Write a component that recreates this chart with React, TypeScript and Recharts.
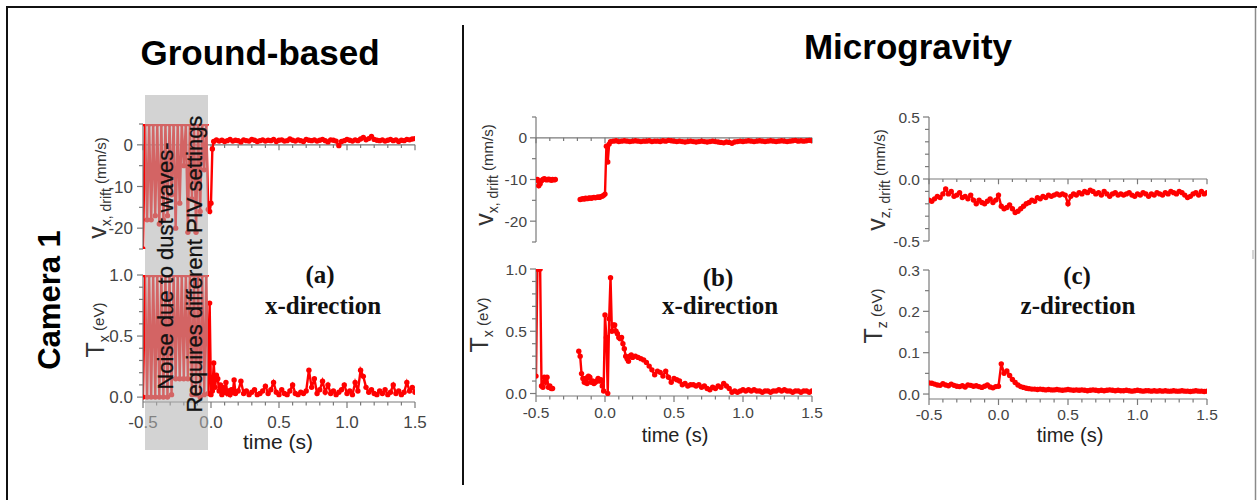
import { LineChart, Line, XAxis, YAxis, ReferenceLine } from "recharts";

const FONT = '"Liberation Sans", Arial, sans-serif';
const SERIF = '"Liberation Serif", "Times New Roman", serif';
const RED = "#ff0000";
const AXIS = "#7a7a7a";
const LABEL = "#444";

// time axis (s)
const xTicks = [-0.5, -0.4, -0.3, -0.2, -0.1, 0, 0.1, 0.2, 0.3, 0.4, 0.5, 0.6, 0.7, 0.8, 0.9, 1.0, 1.1, 1.2, 1.3, 1.4, 1.5];
const xLabels = [-0.5, 0, 0.5, 1.0, 1.5];

const vxTicks = [-25, -20, -15, -10, -5, 0, 5];
const vxLabels = [-20, -10, 0];
const txTicks = [0, 0.1, 0.2, 0.3, 0.4, 0.5, 0.6, 0.7, 0.8, 0.9, 1.0];
const txLabels = [0, 0.5, 1.0];
const vzTicks = [-0.5, -0.4, -0.3, -0.2, -0.1, 0, 0.1, 0.2, 0.3, 0.4, 0.5];
const vzLabels = [-0.5, 0, 0.5];
const tzTicks = [0, 0.05, 0.1, 0.15, 0.2, 0.25, 0.3];
const tzLabels = [0, 0.1, 0.2, 0.3];

// (a) ground-based, x-direction
const vxGroundNoise = [-25, 5, -18, 5, -18, 5, -17, 5, -19, 5, -18, 5, -17, 5, -12, 5, -20, 5, -14, 5, -5, 5, -21, 5, -13, 5, -21, 5, -16, 5, -6, 5];
const vxGroundJump = [-15.5, -16, -14, -1, 0.8];
const vxGroundAfter = [
  1.2, 0.9, 1.1, 0.8, 1.0, 1.3, 0.9, 1.1, 1.0, 0.7, 1.2, 1.0, 0.9, 1.3, 1.1, 0.8, 1.0, 1.2, 0.9, 1.1,
  1.0, 1.3, 0.8, 1.1, 1.2, 0.9, 1.0, 1.4, 1.1, 0.9, 1.2, 1.0, 0.8, 1.3, 1.1, 1.0, 1.2, 0.9, 1.1, 1.3,
  1.0, 0.7, 1.2, 1.1, 0.9, -0.2, 0.8, 1.0, 1.3, 1.1, 0.9, 1.2, 1.0, 1.4, 1.8, 1.2, 1.5, 2.0, 1.3, 1.1,
  1.0, 1.2, 0.9, 1.1, 1.3, 1.0, 1.2, 0.8, 1.1, 1.0, 1.3, 1.2, 1.4, 1.5,
];
const txGroundNoise = [0, 1, 0, 1, 0, 1, 0, 1, 0, 1, 0, 1, 0, 1, 0.02, 1, 0.15, 1, 0.15, 1, 0.15, 1, 0.15, 1, 0.02, 1, 0.02, 1, 0, 1, 0.02, 1];
const txGroundJump = [0.03, 0.77, 0.02, 0.05, 0.28, 0.08, 0.18, 0.15, 0.05, 0.1, 0.02, 0.08, 0.04, 0.12, 0.03, 0.05, 0.02, 0.06, 0.04, 0.14, 0.03];
const txGroundAfter = [
  0.05, 0.13, 0.03, 0.05, 0.02, 0.04, 0.06, 0.02, 0.03, 0.05, 0.09, 0.03, 0.06, 0.12, 0.04, 0.02, 0.06, 0.03, 0.02, 0.05,
  0.1, 0.03, 0.02, 0.04, 0.03, 0.05, 0.22, 0.08, 0.15, 0.03, 0.06, 0.13, 0.04, 0.1, 0.03, 0.05, 0.02, 0.04, 0.06, 0.1,
  0.03, 0.05, 0.02, 0.12, 0.05, 0.22, 0.17, 0.08, 0.04, 0.06, 0.03, 0.02, 0.05, 0.03, 0.06, 0.02, 0.04, 0.1, 0.03, 0.05,
  0.02, 0.04, 0.12, 0.05, 0.08, 0.04,
];

// (b) microgravity, x-direction
const vxMicroEarly = [-10.2, -10, -11.5, -11, -10.3, -10, -9.8, -10, -10.1, -9.9, -10, -10.2, -10, -10.1, -10];
const vxMicroJump = [-14.8, -14.7, -14.6, -14.7, -14.5, -14.6, -14.5, -14.4, -14.5, -14.4, -14.3, -14.4, -14.3, -14.2, -14.3, -14.1, -14.0, -13.8, -13.5, -2, -5.8, -1.5, -0.9];
const vxMicroAfter = [
  -0.8, -0.7, -0.9, -0.8, -0.7, -0.8, -0.9, -0.8, -0.7, -0.8,
  -0.9, -0.8, -0.8, -0.7, -0.9, -0.8, -0.8, -0.9, -0.7, -0.8,
  -0.6, -0.7, -0.8, -0.9, -0.8, -0.9, -1.0, -0.9, -0.8, -0.9,
  -1.0, -0.9, -0.8, -0.9, -1.0, -0.9, -0.8, -0.9, -1.0, -1.1,
  -1.2, -1.0, -1.1, -1.3, -1.0, -0.9, -0.8, -0.9, -0.8, -0.7,
  -0.8, -0.9, -0.8, -0.7, -0.8, -0.9, -0.8, -0.7, -0.8, -0.9,
  -0.8, -0.7, -0.8, -0.9, -0.8, -0.7, -0.6, -0.8, -0.7, -0.8,
  -0.7, -0.6, -0.7,
];
const txMicroEarly = [0.14, 1.0, 1.0, 1.0, 0.06, 0.05, 0.13, 0.09, 0.13, 0.05, 0.06, 0.04, 0.04];
const txMicroJump = [
  0.34, 0.30, 0.16, 0.12, 0.09, 0.12, 0.08, 0.14, 0.13, 0.09, 0.10, 0.08, 0.09, 0.10, 0.12, 0.10, 0.11, 0.06, 0.02,
  0.63, 0.45, 0.0, 0.6, 0.93, 0.5, 0.55, 0.55, 0.5, 0.48, 0.45, 0.44, 0.45, 0.4, 0.36, 0.3, 0.28, 0.26, 0.3, 0.31,
];
const txMicroAfter = [
  0.29, 0.30, 0.29, 0.28, 0.27, 0.25, 0.22, 0.19, 0.15, 0.18, 0.17, 0.14, 0.18, 0.13, 0.09, 0.12, 0.11, 0.1, 0.07, 0.08,
  0.06, 0.07, 0.07, 0.06, 0.07, 0.05, 0.06, 0.04, 0.03, 0.05, 0.04, 0.06, 0.05, 0.08, 0.06, 0.04, 0.01, 0.02, 0.01, 0.02,
  0.03, 0.02, 0.03, 0.02, 0.03, 0.02, 0.02, 0.01, 0.02, 0.02, 0.01, 0.02, 0.02, 0.03, 0.02, 0.03, 0.02, 0.02, 0.01, 0.02,
  0.02, 0.01, 0.02, 0.02, 0.01, 0.02,
];

// (c) microgravity, z-direction
const vzMicro = [
  -0.17, -0.18, -0.16, -0.14, -0.15, -0.12, -0.08, -0.12, -0.1, -0.14,
  -0.13, -0.11, -0.15, -0.14, -0.16, -0.13, -0.17, -0.2, -0.17, -0.19,
  -0.2, -0.18, -0.16, -0.19, -0.17, -0.13, -0.22, -0.24, -0.23, -0.21,
  -0.24, -0.27, -0.26, -0.24, -0.22, -0.2, -0.19, -0.17, -0.18, -0.15,
  -0.16, -0.14, -0.15, -0.13, -0.14, -0.13, -0.12, -0.13, -0.12, -0.13,
  -0.2, -0.14, -0.12, -0.13, -0.11, -0.12, -0.1, -0.11, -0.09, -0.1,
  -0.12, -0.11, -0.13, -0.1, -0.12, -0.14, -0.12, -0.11, -0.13, -0.12,
  -0.13, -0.12, -0.11, -0.13, -0.14, -0.12, -0.13, -0.11, -0.12, -0.14,
  -0.12, -0.13, -0.11, -0.12, -0.13, -0.11, -0.12, -0.1, -0.11, -0.12,
  -0.1, -0.11, -0.13, -0.15, -0.14, -0.12, -0.11, -0.13, -0.1, -0.12, -0.11,
];
const tzMicro = [
  0.027, 0.026, 0.024, 0.022, 0.021, 0.025, 0.022, 0.02, 0.024, 0.021,
  0.019, 0.018, 0.02, 0.017, 0.022, 0.021, 0.019, 0.02, 0.018, 0.016,
  0.019, 0.022, 0.017, 0.015, 0.018, 0.019, 0.073, 0.05, 0.056, 0.045,
  0.035, 0.028, 0.022, 0.018, 0.016, 0.014, 0.013, 0.012, 0.012, 0.011,
  0.012, 0.011, 0.01, 0.011, 0.01, 0.01, 0.011, 0.01, 0.009, 0.01,
  0.011, 0.01, 0.009, 0.01, 0.009, 0.01, 0.009, 0.008, 0.009, 0.01,
  0.009, 0.008, 0.009, 0.008, 0.009, 0.01, 0.009, 0.008, 0.009, 0.008,
  0.008, 0.009, 0.008, 0.007, 0.008, 0.009, 0.008, 0.007, 0.008, 0.008,
  0.007, 0.008, 0.007, 0.008, 0.007, 0.008, 0.007, 0.007, 0.008, 0.007,
  0.007, 0.008, 0.007, 0.007, 0.006, 0.007, 0.008, 0.007, 0.007, 0.006, 0.007,
];

type Row = { t: number; v: number | null };

// samples taken at a fixed frame interval starting at t0
function frames(t0: number, dt: number, values: number[]): Row[] {
  return values.map((v, i) => ({ t: Math.round((t0 + i * dt) * 1000) / 1000, v }));
}
const gap = (t: number): Row[] => [{ t, v: null }];

const vxGround = [...frames(-0.5, 0.015, vxGroundNoise), ...frames(-0.02, 0.01, vxGroundJump), ...frames(0.04, 0.02, vxGroundAfter)];
const txGround = [...frames(-0.5, 0.015, txGroundNoise), ...frames(-0.02, 0.01, txGroundJump), ...frames(0.2, 0.02, txGroundAfter)];
const vxMicro = [...frames(-0.5, 0.01, vxMicroEarly), ...gap(-0.3), ...frames(-0.18, 0.01, vxMicroJump), ...frames(0.06, 0.02, vxMicroAfter)];
const txMicro = [...frames(-0.5, 0.01, txMicroEarly), ...gap(-0.3), ...frames(-0.19, 0.01, txMicroJump), ...frames(0.2, 0.02, txMicroAfter)];
const vzData = frames(-0.5, 0.02, vzMicro);
const tzData = frames(-0.5, 0.02, tzMicro);

const isMajor = (t: number) => Math.abs(t * 2 - Math.round(t * 2)) < 1e-6;
const near = (list: number[], v: number) => list.some((l) => Math.abs(l - v) < 1e-9);

type Box = { left: number; top: number; width: number; height: number };

type PanelProps = {
  box: Box;
  data: Row[];
  yDomain: [number, number];
  yTicks: number[];
  yLabels: number[];
  yFmt: (v: number) => string;
  zeroAxis?: boolean;
  zeroTick?: number;
  xLabelOffset?: number;
  yGap?: number;
  fs?: number;
};

function Panel({ box, data, yDomain, yTicks, yLabels, yFmt, zeroAxis, zeroTick = 1, xLabelOffset = 22, yGap = 9, fs = 15.5 }: PanelProps) {
  const L = 70, T = 10, B = 30, R = 24;
  const xTick = (p: any) => {
    const v = p.payload.value;
    const major = isMajor(v);
    return (
      <g>
        <line x1={p.x} x2={p.x} y1={p.y} y2={p.y + (major ? 6 : 3.5)} stroke={AXIS} strokeWidth={1.2} />
        {near(xLabels, v) && (
          <text x={p.x} y={p.y + xLabelOffset} textAnchor="middle" fontSize={fs} fontFamily={FONT} fill={LABEL}>
            {v.toFixed(1)}
          </text>
        )}
      </g>
    );
  };
  const yTick = (p: any) => {
    const v = p.payload.value;
    const major = near(yLabels, v);
    return (
      <g>
        <line x1={p.x} x2={p.x - (major ? 6 : 4)} y1={p.y} y2={p.y} stroke={AXIS} strokeWidth={1.2} />
        {major && (
          <text x={p.x - yGap} y={p.y} dy="0.36em" textAnchor="end" fontSize={fs} fontFamily={FONT} fill={LABEL}>
            {yFmt(v)}
          </text>
        )}
      </g>
    );
  };
  return (
    <div style={{ position: "absolute", left: box.left - L, top: box.top - T }}>
      <LineChart width={box.width + L + R} height={box.height + T + B} data={data} margin={{ top: T, right: R, bottom: 0, left: 0 }}>
        <XAxis
          dataKey="t"
          type="number"
          domain={[-0.5, 1.5]}
          ticks={xTicks}
          interval={0}
          allowDataOverflow
          height={B}
          axisLine={zeroAxis ? false : { stroke: AXIS, strokeWidth: 1.2 }}
          tickLine={false}
          tickSize={0}
          tickMargin={0}
          tick={zeroAxis ? false : xTick}
        />
        <YAxis
          type="number"
          domain={yDomain}
          ticks={yTicks}
          interval={0}
          allowDataOverflow
          width={L}
          axisLine={{ stroke: AXIS, strokeWidth: 1.2 }}
          tickLine={false}
          tickSize={0}
          tickMargin={0}
          tick={yTick}
        />
        {zeroAxis && <ReferenceLine y={0} stroke={AXIS} strokeWidth={1.2} />}
        {zeroAxis &&
          xTicks.map((t) => (
            <ReferenceLine
              key={t}
              segment={[{ x: t, y: 0 }, { x: t, y: -(isMajor(t) ? zeroTick * 1.7 : zeroTick) }]}
              stroke={AXIS}
              strokeWidth={1.2}
            />
          ))}
        <Line
          dataKey="v"
          stroke={RED}
          strokeWidth={2.4}
          dot={{ r: 2.7, fill: RED, stroke: "none" }}
          connectNulls={false}
          isAnimationActive={false}
        />
      </LineChart>
    </div>
  );
}

const intFmt = (v: number) => String(v);
const oneFmt = (v: number) => v.toFixed(1);

function AxisTitle({ x, y, main, sub, unit }: { x: number; y: number; main: string; sub: string; unit: string }) {
  return (
    <text transform={`rotate(-90 ${x} ${y})`} x={x} y={y} textAnchor="middle" fontFamily={FONT} fill="#333">
      <tspan fontSize={25}>{main}</tspan>
      <tspan fontSize={14} dy={5}>{sub}</tspan>
      <tspan fontSize={15} dy={-5}> {unit}</tspan>
    </text>
  );
}

export default function App() {
  return (
    <div style={{ position: "absolute", left: 0, top: 0, width: 1257, height: 500, background: "#fff", overflow: "hidden" }}>
      {/* Ground-based (a) */}
      <Panel box={{ left: 143, top: 124, width: 272, height: 125 }} data={vxGround} yDomain={[-25, 5]} yTicks={vxTicks} yLabels={vxLabels} yFmt={intFmt} zeroAxis zeroTick={0.75} yGap={10} fs={17} />
      <Panel box={{ left: 143, top: 275, width: 272, height: 127 }} data={txGround} yDomain={[-0.04, 1.0]} yTicks={txTicks} yLabels={txLabels} yFmt={oneFmt} xLabelOffset={26} yGap={10} fs={17} />
      {/* Microgravity (b) */}
      <Panel box={{ left: 536, top: 117, width: 276, height: 125 }} data={vxMicro} yDomain={[-25, 5]} yTicks={vxTicks} yLabels={vxLabels} yFmt={intFmt} zeroAxis zeroTick={0.75} />
      <Panel box={{ left: 536, top: 269, width: 276, height: 127 }} data={txMicro} yDomain={[-0.02, 1.0]} yTicks={txTicks} yLabels={txLabels} yFmt={oneFmt} xLabelOffset={21.5} />
      {/* Microgravity (c) */}
      <Panel box={{ left: 929, top: 117, width: 278, height: 124 }} data={vzData} yDomain={[-0.5, 0.5]} yTicks={vzTicks} yLabels={vzLabels} yFmt={oneFmt} zeroAxis zeroTick={0.025} />
      <Panel box={{ left: 929, top: 270, width: 278, height: 129 }} data={tzData} yDomain={[-0.012, 0.3]} yTicks={tzTicks} yLabels={tzLabels} yFmt={oneFmt} xLabelOffset={21} />

      <svg width={1257} height={500} style={{ position: "absolute", left: 0, top: 0, pointerEvents: "none" }}>
        {/* frame */}
        <line x1={7} y1={7} x2={1257} y2={7} stroke="#111" strokeWidth={2} />
        <line x1={7} y1={6} x2={7} y2={500} stroke="#111" strokeWidth={2} />
        <line x1={1255.5} y1={8} x2={1255.5} y2={500} stroke="#8a8a8a" strokeWidth={1.5} />
        <line x1={1253} y1={250} x2={1253} y2={259} stroke="#aaa" strokeWidth={1} />
        <line x1={463} y1={25} x2={463} y2={485} stroke="#111" strokeWidth={2} />

        <text x={260} y={65} textAnchor="middle" fontFamily={FONT} fontWeight="bold" fontSize={35} fill="#000">Ground-based</text>
        <text x={908} y={59} textAnchor="middle" fontFamily={FONT} fontWeight="bold" fontSize={35} fill="#000">Microgravity</text>
        <text transform="rotate(-90 60 300)" x={60} y={300} textAnchor="middle" fontFamily={FONT} fontWeight="bold" fontSize={31} fill="#000">Camera 1</text>

        {/* noise band over the ground-based data */}
        <rect x={145} y={95} width={63} height={355} fill="rgb(177,177,177)" fillOpacity={0.565} />
        <text transform="rotate(-90 173 266)" x={173} y={266} textAnchor="middle" fontFamily={FONT} fontSize={22} fill="#111" stroke="#111" strokeWidth={0.3}>Noise due to dust waves-</text>
        <text transform="rotate(-90 202 264)" x={202} y={264} textAnchor="middle" fontFamily={FONT} fontSize={22} fill="#111" stroke="#111" strokeWidth={0.3}>Requires different PIV settings</text>

        <AxisTitle x={106} y={188} main="v" sub="x, drift" unit="(mm/s)" />
        <AxisTitle x={104} y={330} main="T" sub="x" unit="(eV)" />
        <AxisTitle x={493} y={175} main="v" sub="x, drift" unit="(mm/s)" />
        <AxisTitle x={488} y={325} main="T" sub="x" unit="(eV)" />
        <AxisTitle x={885} y={180} main="v" sub="z, drift" unit="(mm/s)" />
        <AxisTitle x={882} y={316} main="T" sub="z" unit="(eV)" />

        <text x={278} y={449} textAnchor="middle" fontFamily={FONT} fontSize={21} fill="#222">time (s)</text>
        <text x={675} y={442} textAnchor="middle" fontFamily={FONT} fontSize={20} fill="#222">time (s)</text>
        <text x={1070} y={442} textAnchor="middle" fontFamily={FONT} fontSize={20} fill="#222">time (s)</text>

        <g fontFamily={SERIF} fontWeight="bold" fontSize={25} fill="#111" textAnchor="middle">
          <text x={320} y={283}>(a)</text>
          <text x={323} y={314}>x-direction</text>
          <text x={718} y={286}>(b)</text>
          <text x={720} y={314}>x-direction</text>
          <text x={1077} y={284}>(c)</text>
          <text x={1078} y={314}>z-direction</text>
        </g>
      </svg>
    </div>
  );
}
